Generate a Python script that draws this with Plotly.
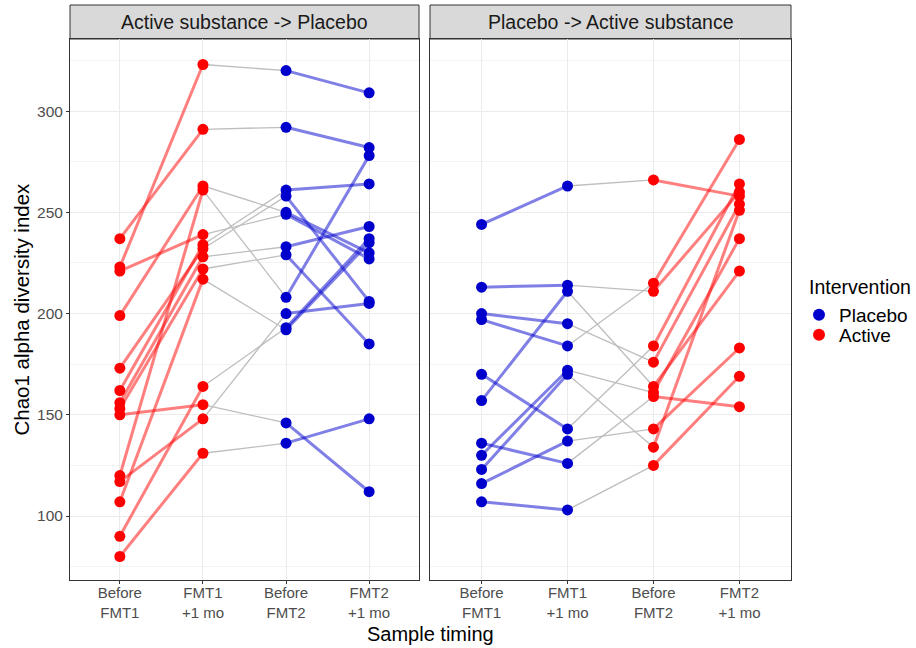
import plotly.graph_objects as go

# ---------------- data ----------------
timing_labels = ["Before<br>FMT1", "FMT1<br>+1 mo", "Before<br>FMT2", "FMT2<br>+1 mo"]
timing_pos = [1, 2, 3, 4]
panel_titles = ["Active substance -> Placebo", "Placebo -> Active substance"]
intervention_names = ["Placebo", "Active"]

# Panel 1: Active substance -> Placebo (one entry per subject)
p1_before_fmt1 = [237, 223, 221, 199, 173, 162, 156, 153, 150, 120, 117, 107, 90, 80]
p1_fmt1_1mo    = [291, 323, 239, 263, 232, 234, 228, 222, 155, 261, 148, 217, 164, 131]
p1_before_fmt2 = [292, 320, 249, 250, 258, 261, 233, 229, 146, 208, 200, 192, 193, 136]
p1_fmt2_1mo    = [282, 309, 227, 230, 206, 264, 243, 185, 112, 278, 205, 235, 237, 148]

# Panel 2: Placebo -> Active substance
p2_before_fmt1 = [244, 213, 200, 197, 170, 157, 136, 130, 123, 116, 107]
p2_fmt1_1mo    = [263, 214, 195, 184, 143, 211, 126, 172, 170, 137, 103]
p2_before_fmt2 = [266, 211, 176, 215, 184, 164, 159, 161, 134, 143, 125]
p2_fmt2_1mo    = [258, 260, 254, 286, 264, 221, 154, 237, 251, 183, 169]

# intervention at each timepoint per panel
p1_point_int = ["Active", "Active", "Placebo", "Placebo"]
p2_point_int = ["Placebo", "Placebo", "Active", "Active"]

y_ticks = [100, 150, 200, 250, 300]
y_minor = [75, 125, 175, 225, 275, 325]

# ---------------- styles ----------------
COL = {"Placebo": "#0000CD", "Active": "#FF0000"}
LINE_COL = {"Placebo": "rgba(0,0,205,0.5)", "Active": "rgba(255,0,0,0.5)"}
GREY = "#BEBEBE"
FONT = "Liberation Sans, Arial, sans-serif"
W, H = 916, 648


def fx(px):
    return px / W


def fy(py):
    return (H - py) / H


panel_x = [(70, 419), (430, 791)]
panel_top, panel_bot = 39, 580
strip_top = 5

fig = go.Figure()

panels = [
    ([p1_before_fmt1, p1_fmt1_1mo, p1_before_fmt2, p1_fmt2_1mo], p1_point_int),
    ([p2_before_fmt1, p2_fmt1_1mo, p2_before_fmt2, p2_fmt2_1mo], p2_point_int),
]

for pi, (series, pint) in enumerate(panels):
    xa = "x" if pi == 0 else "x2"
    ya = "y" if pi == 0 else "y2"
    n = len(series[0])
    # grey between-treatment segments (timepoint 2 -> 3)
    gx, gy = [], []
    for s in range(n):
        gx += [timing_pos[1], timing_pos[2], None]
        gy += [series[1][s], series[2][s], None]
    fig.add_trace(go.Scatter(x=gx, y=gy, mode="lines", xaxis=xa, yaxis=ya,
                             line=dict(color=GREY, width=1.3),
                             showlegend=False, hoverinfo="skip"))
    # coloured treatment segments
    for (a, b) in [(0, 1), (2, 3)]:
        iv = pint[a]
        for s in range(n):
            fig.add_trace(go.Scatter(x=[timing_pos[a], timing_pos[b]],
                                     y=[series[a][s], series[b][s]],
                                     mode="lines", xaxis=xa, yaxis=ya,
                                     line=dict(color=LINE_COL[iv], width=3),
                                     showlegend=False, hoverinfo="skip"))

# points (drawn last so they sit on top)
legend_ids = {"Placebo": "legend", "Active": "legend2"}
for pi, (series, pint) in enumerate(panels):
    xa = "x" if pi == 0 else "x2"
    ya = "y" if pi == 0 else "y2"
    for iv in intervention_names:
        px, py = [], []
        for t in range(4):
            if pint[t] == iv:
                px += [timing_pos[t]] * len(series[t])
                py += list(series[t])
        fig.add_trace(go.Scatter(x=px, y=py, mode="markers", xaxis=xa, yaxis=ya,
                                 marker=dict(color=COL[iv], size=11),
                                 name=iv, legendgroup=iv, legend=legend_ids[iv],
                                 showlegend=(pi == 0)))

ydom = [fy(panel_bot), fy(panel_top)]
yrange = [68.4, 335.6]

common_x = dict(range=[0.4, 4.6], tickvals=timing_pos, ticktext=timing_labels,
                showgrid=True, gridcolor="#EBEBEB", gridwidth=1.1, zeroline=False,
                showline=True, mirror=True, linecolor="#333333", linewidth=1,
                ticks="outside", ticklen=3, tickcolor="#333333",
                ticklabelstandoff=-4,
                tickfont=dict(family=FONT, size=15, color="#4D4D4D"))
common_y = dict(range=yrange, domain=ydom, showgrid=True, gridcolor="#EBEBEB",
                gridwidth=1.1, zeroline=False, showline=True, mirror=True,
                linecolor="#333333", linewidth=1,
                minor=dict(tickvals=y_minor, showgrid=True, gridcolor="#F3F3F3",
                           gridwidth=0.6, ticks=""))

leg_common = dict(x=fx(799), xanchor="left", yanchor="middle",
                  font=dict(family=FONT, size=19), tracegroupgap=0,
                  itemsizing="constant", bgcolor="rgba(0,0,0,0)")

fig.update_layout(
    width=W, height=H,
    margin=dict(l=0, r=0, t=0, b=0),
    paper_bgcolor="white", plot_bgcolor="white",
    font=dict(family=FONT, size=15, color="#000000"),
    xaxis=dict(domain=[fx(panel_x[0][0]), fx(panel_x[0][1])], anchor="y", **common_x),
    xaxis2=dict(domain=[fx(panel_x[1][0]), fx(panel_x[1][1])], anchor="y2", **common_x),
    yaxis=dict(anchor="x", tickvals=y_ticks, ticks="outside", ticklen=3,
               tickcolor="#333333",
               tickfont=dict(family=FONT, size=15.5, color="#4D4D4D"), **common_y),
    yaxis2=dict(anchor="x2", matches="y", tickvals=y_ticks, showticklabels=False,
                ticks="", **common_y),
    legend=dict(y=fy(315), **leg_common),
    legend2=dict(y=fy(335), **leg_common),
    showlegend=True,
)

# legend title
fig.add_annotation(xref="paper", yref="paper", x=fx(807), y=fy(287),
                   text="Intervention", showarrow=False,
                   font=dict(family=FONT, size=19.5, color="#000000"),
                   xanchor="left", yanchor="middle")

# facet strips
for (x0, x1), title in zip(panel_x, panel_titles):
    fig.add_shape(type="rect", xref="paper", yref="paper",
                  x0=fx(x0), x1=fx(x1), y0=fy(panel_top), y1=fy(strip_top),
                  fillcolor="#D9D9D9", line=dict(color="#333333", width=1), layer="below")
    fig.add_annotation(xref="paper", yref="paper", x=fx((x0 + x1) / 2),
                       y=fy((panel_top + strip_top) / 2), text=title,
                       showarrow=False, font=dict(family=FONT, size=19.5, color="#1A1A1A"),
                       xanchor="center", yanchor="middle")

# axis titles
fig.add_annotation(xref="paper", yref="paper", x=fx((panel_x[0][0] + panel_x[1][1]) / 2),
                   y=fy(634), text="Sample timing", showarrow=False,
                   font=dict(family=FONT, size=20, color="#000000"),
                   xanchor="center", yanchor="middle")
fig.add_annotation(xref="paper", yref="paper", x=fx(21),
                   y=fy((panel_top + panel_bot) / 2),
                   text="Chao1 alpha diversity index", textangle=-90, showarrow=False,
                   font=dict(family=FONT, size=20.5, color="#000000"),
                   xanchor="center", yanchor="middle")

fig.write_html("out.html",
               config={"displayModeBar": False},
               post_script="document.body.style.margin='0px';"
                           "document.body.style.overflow='hidden';")
